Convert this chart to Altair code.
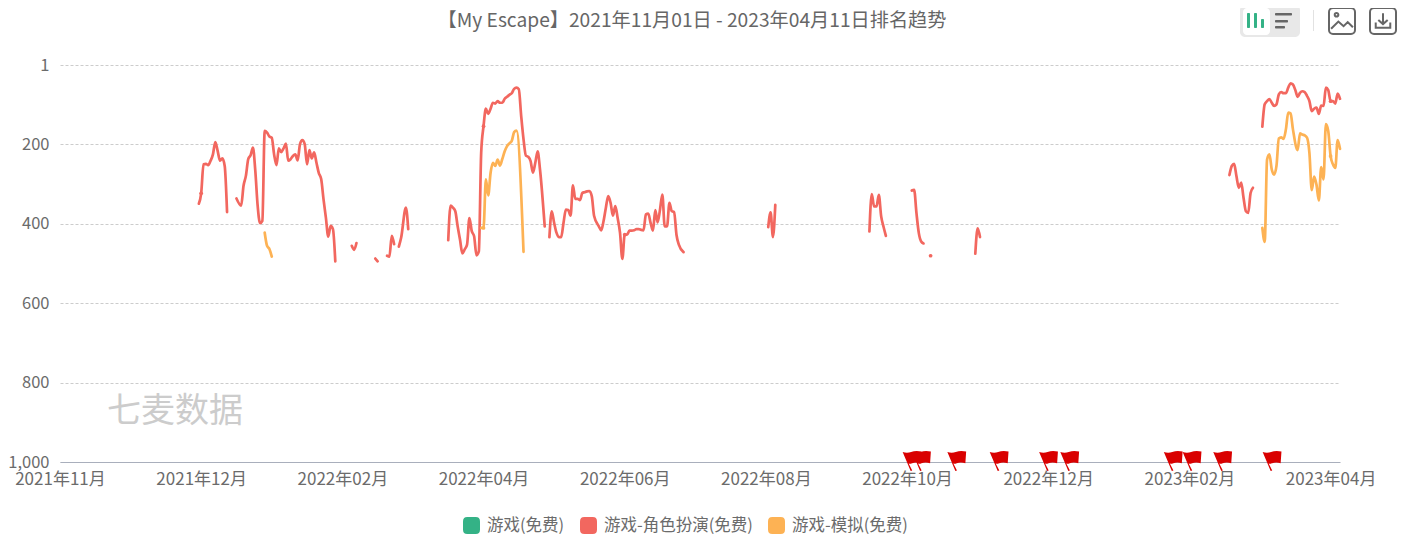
import altair as alt
import pandas as pd

FONT = "Noto Sans CJK SC"
TITLE = "【My Escape】2021年11月01日 - 2023年04月11日排名趋势"
SERIES = ["游戏(免费)", "游戏-角色扮演(免费)", "游戏-模拟(免费)"]
COLORS = ["#34B286", "#F2675F", "#FDB254"]
TICK_LABELS = ["2021年11月", "2021年12月", "2022年02月", "2022年04月", "2022年06月",
               "2022年08月", "2022年10月", "2022年12月", "2023年02月", "2023年04月"]
Y_TICKS = [1, 200, 400, 600, 800, 1000]

# day position on the category axis, rank
red_a_x = [59, 60, 61, 62, 63, 64, 65, 66, 67, 68, 69, 70, 71]
red_a_y = [350, 324, 251, 250, 253, 242, 226, 195, 217, 242, 236, 255, 371]
red_b_x = [75, 77, 78, 79, 80, 81, 82, 83, 84, 85, 86, 87, 88, 89, 90, 91, 92, 93, 94, 95, 96, 97, 98, 99, 100,
           101, 102, 103, 104, 105, 106, 107, 108, 109, 110, 111, 112, 113, 114, 115, 116, 117]
red_b_y = [337, 355, 305, 280, 238, 228, 209, 267, 355, 399, 393, 167, 171, 181, 184, 226, 253, 211, 220, 211, 199,
           242, 238, 230, 226, 241, 200, 190, 200, 251, 215, 236, 221, 247, 273, 288, 339, 385, 433, 406, 414, 495]
red_c_x = [124, 125, 126]
red_c_y = [456, 466, 449]
red_d_x = [134, 135]
red_d_y = [488, 495]
red_e_x = [139, 140, 141, 142]
red_e_y = [481, 483, 431, 452]
red_f_x = [144, 145, 147, 148]
red_f_y = [458, 435, 360, 414]
red_g_x = [165, 166, 167, 168, 169, 170, 171, 172, 173, 174, 175, 176, 177, 178, 179, 180, 181, 182, 183, 184, 185,
           186, 187, 188, 189, 190, 191, 192, 193, 194, 195, 196, 197, 198, 199, 200, 201, 202, 203, 204, 206]
red_g_y = [442, 355, 360, 369, 407, 440, 475, 465, 453, 386, 419, 432, 480, 470, 222, 155, 111, 124, 111, 96, 98,
           92, 96, 96, 86, 81, 76, 72, 61, 58, 62, 129, 188, 229, 232, 243, 272, 247, 218, 264, 407]
red_h_x = [208, 209, 210, 211, 212, 213, 214, 215, 216, 217, 218, 219, 220, 221, 222, 223, 224, 225, 226, 227, 229,
           230, 231, 232, 233, 234, 235, 236, 237, 238, 239, 240, 241, 242, 243, 244, 245, 246, 247, 248, 249, 250,
           251, 252, 253, 254, 255, 256, 257, 258, 259, 260, 261, 262, 263, 265]
red_h_y = [434, 369, 398, 423, 434, 434, 398, 365, 366, 380, 304, 338, 338, 341, 323, 321, 319, 318, 331, 381, 407,
           417, 394, 360, 331, 348, 380, 356, 386, 423, 489, 428, 428, 418, 418, 417, 414, 414, 416, 417, 377, 375,
           398, 418, 366, 397, 365, 327, 407, 407, 348, 369, 371, 428, 453, 472]
red_i_x = [301, 302, 303, 304]
red_i_y = [409, 372, 434, 353]
red_j_x = [344, 345, 346, 347, 348, 349, 350, 351]
red_j_y = [420, 326, 357, 357, 328, 382, 408, 431]
red_k_x = [362, 363, 364, 365, 366, 367]
red_k_y = [317, 315, 374, 424, 445, 450]
red_l_x = [370]
red_l_y = [481]
red_m_x = [389, 390, 391]
red_m_y = [476, 412, 434]
red_n_x = [497, 498, 499, 500, 501, 502, 503, 504, 505, 506, 507]
red_n_y = [278, 255, 250, 281, 310, 297, 335, 369, 373, 323, 310]
red_o_x = [511, 512, 513, 514, 515, 516, 517, 518, 519, 520, 521, 522, 523, 524, 525, 526, 527, 528, 529, 530, 531,
           532, 533, 534, 535, 536, 537, 538, 539, 540, 541, 542, 543, 544]
red_o_y = [156, 100, 92, 87, 96, 104, 100, 75, 69, 72, 72, 58, 47, 50, 64, 81, 71, 67, 69, 79, 92,
           117, 111, 108, 124, 103, 104, 58, 64, 92, 92, 98, 73, 86]

org_a_x = [87, 88, 89, 90]
org_a_y = [423, 456, 464, 483]
org_b_x = [179, 180, 181, 182, 183, 184, 185, 186, 187, 188, 189, 190, 191, 192, 193, 194, 197]
org_b_y = [411, 411, 289, 329, 272, 247, 255, 239, 254, 237, 218, 205, 198, 192, 170, 166, 471]
org_c_x = [511, 512, 513, 514, 515, 516, 517, 518, 519, 520, 521, 522, 523, 524, 526, 527, 528, 529, 530, 531,
           532, 533, 534, 535, 536, 537, 538, 539, 540, 541, 542, 543, 544]
org_c_y = [411, 446, 239, 226, 264, 277, 255, 186, 183, 187, 163, 121, 123, 163, 215, 173, 176, 178, 184, 222,
           316, 282, 302, 342, 258, 289, 150, 167, 230, 251, 260, 190, 212]

flag_days = [360, 364, 379, 397, 418, 427, 471, 479, 492, 513]

segments = [
    (SERIES[1], red_a_x, red_a_y), (SERIES[1], red_b_x, red_b_y), (SERIES[1], red_c_x, red_c_y),
    (SERIES[1], red_d_x, red_d_y), (SERIES[1], red_e_x, red_e_y), (SERIES[1], red_f_x, red_f_y),
    (SERIES[1], red_g_x, red_g_y), (SERIES[1], red_h_x, red_h_y), (SERIES[1], red_i_x, red_i_y),
    (SERIES[1], red_j_x, red_j_y), (SERIES[1], red_k_x, red_k_y), (SERIES[1], red_l_x, red_l_y),
    (SERIES[1], red_m_x, red_m_y), (SERIES[1], red_n_x, red_n_y), (SERIES[1], red_o_x, red_o_y),
    (SERIES[2], org_a_x, org_a_y), (SERIES[2], org_b_x, org_b_y), (SERIES[2], org_c_x, org_c_y),
]
rows = []
for i, (name, xs, ys) in enumerate(segments):
    for x, y in zip(xs, ys):
        rows.append({"day": x, "rank": y, "series": name, "seg": i, "solo": len(xs) == 1})
df = pd.DataFrame(rows)
dots = df[(df["day"] % 60 == 0) | df["solo"]]
flags = pd.DataFrame({"day": flag_days, "rank": [1000] * len(flag_days)})
one = pd.DataFrame({"a": [0]})

x_scale = alt.Scale(domain=[0, 544], nice=False, zero=False)
y_scale = alt.Scale(domain=[1, 1000], reverse=True, nice=False, zero=False)
tick_expr = "[" + ",".join(f"'{t}'" for t in TICK_LABELS) + "][round(datum.value / 60)]"

x_enc = alt.X("day:Q", scale=x_scale, title=None,
              axis=alt.Axis(values=[i * 60 for i in range(len(TICK_LABELS))], labelExpr=tick_expr, grid=False,
                            ticks=False, domainColor="#A9AFBC", domainWidth=1.2, labelColor="#6B6B6B",
                            labelFontSize=17, labelFont=FONT, labelPadding=9, labelFlush=False,
                            labelOverlap=False))
y_enc = alt.Y("rank:Q", scale=y_scale, title=None,
              axis=alt.Axis(values=Y_TICKS, format=",d", grid=True, gridDash=[3, 2], gridColor="#CCCCCC",
                            gridWidth=1, ticks=False, domain=False, labelColor="#6B6B6B", labelFontSize=16.5,
                            labelFont=FONT, labelPadding=11, labelOverlap=False))

# the stroke domain is listed in another order so that its hidden legend is not merged with the fill legend
stroke_scale = alt.Scale(domain=[SERIES[1], SERIES[2], SERIES[0]], range=[COLORS[1], COLORS[2], COLORS[0]])
lines = alt.Chart(df).mark_line(interpolate="monotone", strokeWidth=2.7, strokeCap="round").encode(
    x=x_enc, y=y_enc,
    stroke=alt.Stroke("series:N", scale=stroke_scale, legend=None),
    detail="seg:N",
)
ROUND_SQ = ("M-1,-0.5 Q-1,-1 -0.5,-1 L0.5,-1 Q1,-1 1,-0.5 L1,0.5 "
            "Q1,1 0.5,1 L-0.5,1 Q-1,1 -1,0.5 Z")
points = alt.Chart(dots).mark_point(filled=True, size=14, opacity=1).encode(
    x="day:Q", y="rank:Q",
    fill=alt.Fill("series:N", scale=alt.Scale(domain=SERIES, range=COLORS),
                  legend=alt.Legend(title=None, orient="none", legendX=403, legendY=452, direction="horizontal",
                                    columns=3, symbolType=ROUND_SQ, symbolSize=289, symbolStrokeWidth=0,
                                    symbolOpacity=1, labelFont=FONT, labelFontSize=16.5, labelColor="#6B6B6B",
                                    labelOffset=7, columnPadding=15, labelLimit=400)),
)
FLAG = ("M0.18,0.45 L-0.22,-0.5 Q0,-0.42 0.2,-0.5 Q0.45,-0.6 0.72,-0.52 L0.68,0.06 Q0.45,0 0.25,0.06 "
        "Q0.15,0.1 0.08,0.08 L0.26,0.42 Z")
flag_marks = alt.Chart(flags).mark_point(filled=True, shape=FLAG, size=1600, color="#D90000", opacity=1).encode(
    x="day:Q", y="rank:Q")
watermark = alt.Chart(one).mark_text(text="七麦数据", font=FONT, fontSize=34, color="#CCCCCC", align="left",
                                     baseline="middle").encode(x=alt.value(47), y=alt.value(347))


# toolbar (page furniture, located relative to the plot origin at 60,65)
def box(x1, x2, y1, y2, fill="transparent", stroke=None, r=0, sw=2):
    kw = {"stroke": stroke, "strokeWidth": sw} if stroke else {}
    return alt.Chart(one).mark_rect(fill=fill, cornerRadius=r, **kw).encode(
        x=alt.value(x1 - 60), x2=alt.value(x2 - 60), y=alt.value(y1 - 65), y2=alt.value(y2 - 65))


def glyph(path, cx, cy, size):
    return alt.Chart(one).mark_point(shape=path, size=size, filled=False, stroke="#666666", strokeWidth=2,
                                     opacity=1).encode(x=alt.value(cx - 60), y=alt.value(cy - 65))


toolbar = [
    box(1240, 1300, 5, 37, fill="#E8E8E8", r=5),
    box(1243, 1270, 8, 35, fill="#FFFFFF", r=4),
    box(1247, 1250, 13, 28, fill="#34B286", r=1),
    box(1254, 1257, 13, 28, fill="#34B286", r=1),
    box(1261, 1264, 19, 28, fill="#34B286", r=1),
    box(1275, 1292, 13, 15.5, fill="#666666", r=1),
    box(1275, 1288, 20, 22.5, fill="#666666", r=1),
    box(1275, 1285, 26, 28.5, fill="#666666", r=1),
    box(1313, 1314, 10, 31, fill="#E2E2E2"),
    box(1329, 1355, 8, 34, stroke="#666666", r=4),
    box(1370, 1396, 8, 34, stroke="#666666", r=4),
    glyph("M-0.42,0.3 L-0.14,0.02 L0.06,0.2 L0.22,0.04 L0.42,0.24 M-0.14,-0.24 A0.07,0.07 0 1 1 -0.28,-0.24 "
          "A0.07,0.07 0 1 1 -0.14,-0.24 Z", 1342, 21, 2704),
    glyph("M0,-0.3 L0,0.1 M-0.18,-0.04 L0,0.12 L0.18,-0.04 M-0.28,0.06 L-0.28,0.26 L0.28,0.26 L0.28,0.06",
          1383, 21, 2704),
]

chart = alt.layer(lines, points, flag_marks, watermark, *toolbar).resolve_scale(
    x="shared", y="shared"
).properties(
    width=1280, height=397,
    background="white",
    autosize=alt.AutoSizeParams(type="none"),
    padding={"left": 52, "top": 57, "right": 58, "bottom": 72},
    title=alt.TitleParams(text=TITLE, anchor="middle", dx=-8, offset=-26, font=FONT, fontSize=19.2,
                          fontWeight="normal", color="#666666"),
).configure_view(stroke=None)

chart.save("out.html", embed_options={"renderer": "svg", "actions": False})
